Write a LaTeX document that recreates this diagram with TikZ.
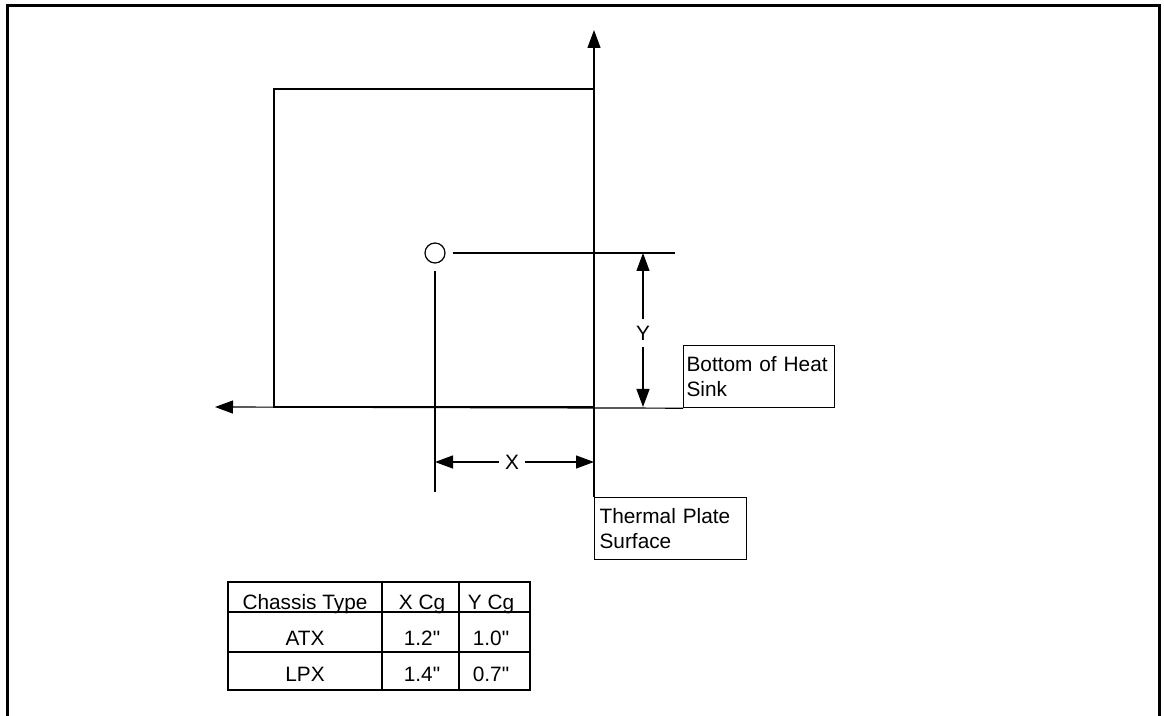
\documentclass[tikz,border=0pt]{standalone}
\usepackage{fontspec}
\setmainfont{Liberation Sans}[Ligatures=TeXOff]
\usetikzlibrary{arrows.meta,positioning}

\begin{document}
\begin{tikzpicture}[x=0.5pt,y=-0.5pt, >={Triangle[length=9pt,width=6.5pt]},
        font=\fontsize{10.4}{12.5}\selectfont,
        axis/.style={line width=0.6pt},
        cgline/.style={line width=1.1pt},
        tabline/.style={line width=1pt},
        tag/.style={draw,line width=0.6pt,align=left,anchor=north west,inner xsep=1.5pt,inner ysep=2.5pt,text width=72.5pt,minimum height=31pt}]
        \useasboundingbox (0,0) rectangle (1164,716);
        % frame, open at the bottom
        \draw[line width=1.5pt] (7,716) -- (7,6) -- (1159,6) -- (1159,716);

        \node[draw,axis,inner sep=0,minimum width=160pt,minimum height=159pt] (sink) at (434,248) {};
        \node[tag] (bottom) at (683,345) {Bottom of Heat Sink};
        \node[tag,inner xsep=2.5pt,text width=71pt] (plate) at (594,497) {Thermal Plate Surface};
        \node[circle,draw,axis,inner sep=0,minimum size=10pt] (cg) at (435,253) {};

        \coordinate (ytip) at (594,30);
        \coordinate (xtip) at (215,407);
        \coordinate (hend) at (675,253);
        \coordinate (vend) at (435,492);
        \coordinate (ytop) at (643,253);
        \coordinate (ybot) at (643,407);
        \coordinate (xleft) at (435,462);
        \coordinate (xright) at (594,462);
        \node[inner sep=3pt] (ylab) at (643,333) {Y};
        \node[inner sep=3pt] (xlab) at (512,462) {X};

        \draw[axis,->] (plate.north west) -- (ytip);
        \draw[axis,->] (bottom.south west) -- (xtip);
        \draw[cgline] ([xshift=3.5pt]cg.east) -- (hend);
        \draw[cgline] ([yshift=-3.5pt]cg.south) -- (vend);
        \path[axis,->] (ylab) edge (ytop)
                       (ylab) edge (ybot)
                       (xlab) edge (xleft)
                       (xlab) edge (xright);

        % table
        \draw[tabline] (228,582) rectangle (530,690);
        \draw[tabline] (228,612) -- (530,612) (228,652) -- (530,652)
                       (382,582) -- (382,690) (459,582) -- (459,690);
        \node[anchor=base] (chassis) at (305,610) {Chassis Type};
        \node[anchor=base] (xcg)     at (422,610) {X Cg};
        \node[anchor=base] (ycg)     at (491,610) {Y Cg};
        \node[anchor=base] (atx)     at (305,646) {ATX};
        \node[anchor=base] (atxx)    at (422,646) {1.2"};
        \node[anchor=base] (atxy)    at (491,646) {1.0"};
        \node[anchor=base] (lpx)     at (305,682) {LPX};
        \node[anchor=base] (lpxx)    at (422,682) {1.4"};
        \node[anchor=base] (lpxy)    at (491,682) {0.7"};
\end{tikzpicture}
\end{document}
